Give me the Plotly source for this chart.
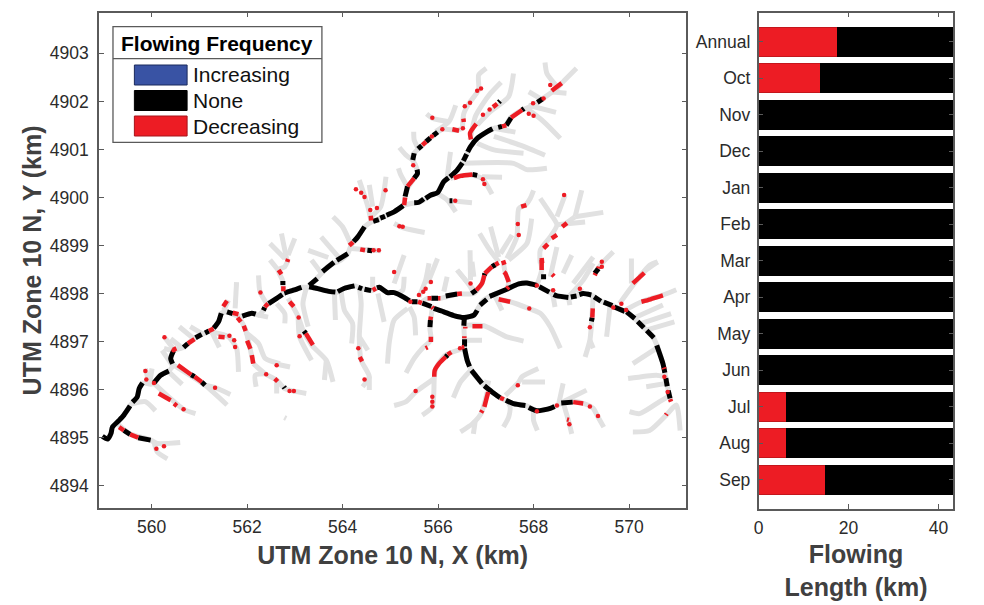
import plotly.graph_objects as go

# ---- monthly bars ----
months = ["Annual","Oct","Nov","Dec","Jan","Feb","Mar","Apr","May","Jun","Jul","Aug","Sep"]
decreasing_km = [17.5,13.8,0,0,0,0,0,0,0,0,6.2,6.1,14.8]
none_km = [26.5,30.2,44,44,44,44,44,44,44,44,37.8,37.9,29.2]
increasing_km = [0]*13

# ---- stream network: each row is x,y,x,y,... in km ----
main_paths = [
 [558.97,4895.03,559.08,4894.97,559.15,4895.09,559.18,4895.22,559.32,4895.36,559.42,4895.47,559.56,4895.68,559.70,4895.85,559.74,4896.02,559.81,4896.14,559.98,4896.11,560.05,4896.14,560.19,4896.30,560.36,4896.39,560.44,4896.49,560.40,4896.65,560.46,4896.81,560.67,4896.88,560.85,4897.03,561.05,4897.15,561.26,4897.24,561.40,4897.41,561.46,4897.59,561.58,4897.62,561.75,4897.55,561.89,4897.53,562.10,4897.59,562.24,4897.55,562.34,4897.65,562.41,4897.76,562.62,4897.90,562.76,4898.00,562.97,4898.07,563.14,4898.13,563.28,4898.13,563.45,4898.11,563.69,4898.05,563.87,4898.02,564.04,4898.11,564.25,4898.16,564.39,4898.11,564.60,4898.06,564.77,4898.13,564.94,4898.02,565.08,4898.02,565.29,4897.92,565.47,4897.83,565.67,4897.81,565.88,4897.71,566.12,4897.62,566.33,4897.54,566.55,4897.50,566.75,4897.55,566.92,4897.83,567.10,4897.95,567.44,4898.09,567.69,4898.20,567.86,4898.22,568.07,4898.17,568.31,4898.04,568.49,4897.95,568.73,4897.92,568.90,4897.95,569.04,4898.00,569.21,4897.97,569.39,4897.85,569.63,4897.76,569.91,4897.63,570.12,4897.48,570.29,4897.31,570.50,4897.10,570.60,4896.88,570.71,4896.54,570.78,4896.20,570.83,4895.95,570.88,4895.75],
 [566.55,4897.50,566.54,4897.31,566.555,4897.03,566.555,4896.82,566.61,4896.61,566.72,4896.37,566.92,4896.13,567.13,4895.95,567.34,4895.81,567.58,4895.71,567.83,4895.67,568.07,4895.56,568.35,4895.61,568.62,4895.73,568.90,4895.75,569.08,4895.70,569.25,4895.61,569.35,4895.43,569.47,4895.22],
 [563.28,4898.13,563.56,4898.42,563.69,4898.56,563.97,4898.70,564.11,4898.83,564.18,4899.01,564.32,4899.18,564.46,4899.39,564.60,4899.49,564.87,4899.60,565.08,4899.70,565.29,4899.84,565.47,4899.88,565.64,4899.91,565.85,4900.05,565.99,4900.10,566.12,4900.33,566.26,4900.43,566.40,4900.57,566.54,4900.78,566.68,4901.06,566.82,4901.23,567.03,4901.37,567.17,4901.44,567.41,4901.49,567.51,4901.65,567.76,4901.82,568.00,4901.92,568.17,4902.04,568.49,4902.27,568.59,4902.38,568.90,4902.69],
 [565.29,4899.84,565.31,4900.02,565.36,4900.19,565.50,4900.40,565.57,4900.50,565.53,4900.67,565.47,4900.78,565.50,4900.92,565.67,4901.09,565.95,4901.33,566.09,4901.42,566.40,4901.40,566.51,4901.44],
 [565.67,4897.83,565.78,4897.90,566.05,4897.90,566.40,4897.99,566.75,4898.0,566.92,4898.21,566.97,4898.38,567.13,4898.56,567.27,4898.64],
 [567.44,4898.10,567.48,4898.24,567.41,4898.42,567.37,4898.63],
]
branch_paths = [
 [559.28,4895.29,559.53,4895.09,559.98,4894.95,560.12,4894.88,560.60,4894.90],
 [560.05,4894.91,560.12,4894.70,560.33,4894.56],
 [559.60,4895.71,559.87,4895.75,560.08,4895.56],
 [559.87,4896.44,559.94,4896.16],
 [560.01,4896.44,559.96,4896.14],
 [560.05,4896.13,560.40,4895.81,560.67,4895.59,560.92,4895.50],
 [560.43,4896.51,560.22,4896.82],
 [560.36,4896.37,560.64,4896.11],
 [560.46,4896.51,561.12,4896.09,561.58,4895.68],
 [561.12,4896.09,561.33,4896.04,561.65,4895.90],
 [560.49,4896.81,560.28,4897.08],
 [560.26,4896.86,560.50,4896.79],
 [560.40,4897.06,560.65,4896.86],
 [560.58,4897.31,560.92,4897.03],
 [560.81,4897.31,561.05,4897.17],
 [561.26,4897.20,561.42,4896.88],
 [561.26,4897.20,561.61,4897.10,561.78,4896.86,561.82,4896.37],
 [561.51,4897.65,561.61,4897.86],
 [561.78,4897.59,561.96,4897.27,562.13,4896.54],
 [561.96,4897.20,562.24,4896.96,562.38,4896.65,562.69,4896.54],
 [562.58,4896.54,562.90,4896.47],
 [562.13,4896.54,562.38,4896.33,562.62,4896.20,562.79,4896.02,563.24,4895.92],
 [562.38,4896.33,562.17,4896.30,562.19,4896.06],
 [562.62,4896.20,562.62,4895.92],
 [562.78,4895.42,562.82,4895.40],
 [562.24,4898.38,562.27,4898.04,562.41,4897.79],
 [561.78,4898.24,561.75,4897.69],
 [562.76,4898.00,562.74,4898.28,562.65,4898.49,562.79,4898.56,562.86,4898.70],
 [562.48,4898.70,562.65,4898.49],
 [562.86,4897.90,563.07,4897.52,563.17,4897.24,563.35,4896.93,563.66,4896.61,563.80,4896.16],
 [563.07,4897.52,563.10,4897.10,563.35,4896.61],
 [563.66,4896.61,563.62,4896.20],
 [563.24,4898.11,563.17,4897.79,563.28,4897.31],
 [562.62,4897.79,562.79,4897.58,562.79,4897.38],
 [562.24,4897.55,562.44,4897.51],
 [563.83,4898.00,563.85,4897.45],
 [563.97,4898.04,564.04,4897.65,564.21,4897.38,564.19,4896.96],
 [564.35,4898.14,564.39,4897.79,564.35,4897.10,564.39,4896.61,564.56,4896.27,564.42,4896.06],
 [564.35,4897.10,564.53,4896.82],
 [564.56,4896.27,564.56,4895.99],
 [564.63,4898.35,564.63,4898.07],
 [564.74,4898.00,564.87,4897.41],
 [564.94,4896.54,564.98,4897.0,565.08,4897.45,565.36,4897.69],
 [563.35,4898.70,563.56,4898.42],
 [564.60,4899.49,564.53,4899.81,564.35,4900.36],
 [564.63,4899.81,564.56,4900.26],
 [564.60,4899.60,564.80,4899.81,564.91,4900.43],
 [564.18,4899.01,564.0,4899.39,563.80,4899.60],
 [564.18,4898.94,564.80,4898.89],
 [563.94,4898.73,563.55,4899.18],
 [562.83,4898.71,562.72,4899.25],
 [562.86,4898.80,563.0,4899.15],
 [562.48,4899.04,562.79,4898.73],
 [563.28,4898.9,563.7,4898.75],
 [565.95,4901.37,566.23,4901.58,566.37,4901.92],
 [566.2,4901.58,565.88,4901.65,565.76,4901.74],
 [565.60,4900.99,565.50,4901.20,565.49,4901.37],
 [565.47,4900.78,565.33,4900.88,565.19,4901.04],
 [565.36,4900.22,565.22,4900.47,565.17,4900.61],
 [566.67,4901.20,566.78,4901.68,566.92,4901.92,567.10,4902.17,567.32,4902.40],
 [566.82,4901.51,567.10,4901.79,567.48,4902.10,567.58,4902.58],
 [566.51,4901.44,566.54,4901.75,566.65,4901.96,566.85,4902.24,566.85,4902.55,567.01,4902.69],
 [568.17,4902.04,567.90,4902.20],
 [567.89,4901.92,568.47,4901.77],
 [567.85,4901.86,568.21,4901.58,568.56,4901.23],
 [568.49,4902.31,568.28,4902.58,568.24,4902.81],
 [568.35,4902.20,568.69,4902.17],
 [566.82,4901.13,567.17,4900.99,567.79,4900.92],
 [567.17,4901.27,567.72,4901.09,568.24,4900.88],
 [567.17,4901.44,567.62,4901.36],
 [566.19,4900.40,566.26,4900.95],
 [566.51,4900.71,567.58,4900.71,567.86,4900.58,568.28,4900.61],
 [566.26,4900.40,566.68,4900.47,566.92,4900.40,567.13,4900.07],
 [566.92,4900.43,567.34,4900.42],
 [565.99,4900.08,566.19,4899.95,566.37,4899.70],
 [566.28,4899.93,566.71,4899.89],
 [565.08,4899.46,565.29,4899.36,565.72,4899.27],
 [567.27,4898.66,567.06,4898.94,566.87,4899.25],
 [567.27,4898.76,567.10,4899.39],
 [567.48,4898.70,567.86,4899.04,567.96,4899.56],
 [567.44,4898.73,567.65,4899.18,567.69,4899.77,567.83,4899.84,567.93,4899.98,568.0,4900.15],
 [567.31,4898.83,567.55,4899.22],
 [568.14,4898.63,568.14,4898.90,568.35,4899.18,568.49,4899.43,568.35,4899.67,568.14,4899.98],
 [568.49,4899.60,568.66,4900.05],
 [568.49,4899.43,569.08,4899.49],
 [568.87,4899.60,569.01,4900.15],
 [568.87,4899.60,569.46,4899.69],
 [568.62,4899.42,568.87,4899.60],
 [566.68,4898.28,566.67,4898.90],
 [566.40,4898.49,566.75,4898.07],
 [565.08,4898.21,565.29,4898.80],
 [565.78,4898.21,565.99,4898.73],
 [568.35,4898.35,568.49,4898.97],
 [568.62,4898.42,568.80,4898.80],
 [568.83,4898.21,569.25,4898.76],
 [569.32,4898.49,569.46,4898.66,569.67,4898.87],
 [570.05,4898.73,570.05,4898.21],
 [570.22,4898.35,570.43,4898.59,570.60,4898.66],
 [565.29,4898.35,565.26,4898.07,565.14,4898.0],
 [565.40,4897.72,565.50,4897.51,565.53,4897.13],
 [565.81,4898.63,565.74,4898.28,565.60,4897.93],
 [566.19,4898.35,566.12,4898.04],
 [566.40,4898.49,566.65,4898.18,566.75,4898.0],
 [566.71,4898.66,566.75,4898.35],
 [565.88,4897.71,565.83,4897.27,565.85,4897.03,565.67,4896.86,565.50,4896.65,565.33,4896.35],
 [566.54,4896.86,566.16,4896.72,565.95,4896.44,565.92,4896.23,565.88,4895.64,565.67,4895.47],
 [565.92,4896.23,565.53,4895.95,565.33,4895.75,565.08,4895.67],
 [566.68,4896.40,566.47,4896.16,566.32,4895.83],
 [566.55,4897.34,566.96,4897.33,567.44,4897.10,567.79,4897.01],
 [566.55,4897.03,566.92,4897.03],
 [567.17,4898.0,567.34,4897.65],
 [567.24,4897.88,567.51,4897.83,567.90,4897.69,568.14,4897.59,568.35,4897.31,568.56,4896.86],
 [568.38,4898.10,568.45,4897.72],
 [568.07,4898.17,568.17,4898.49,568.14,4898.70],
 [568.73,4897.93,568.76,4897.76],
 [568.73,4897.93,569.04,4898.28,569.25,4898.63],
 [569.25,4897.97,569.21,4897.31,569.18,4897.03,569.08,4896.68],
 [569.18,4897.03,569.25,4896.86],
 [568.94,4898.0,569.01,4898.11],
 [569.60,4897.72,569.53,4897.10],
 [569.80,4897.79,570.08,4898.17,570.36,4898.49,570.60,4898.66],
 [569.91,4897.65,570.26,4897.83,570.71,4897.97,570.99,4898.08],
 [570.15,4897.51,570.71,4897.76],
 [570.26,4897.38,570.88,4897.58],
 [570.36,4897.24,570.95,4897.41],
 [570.08,4896.54,570.57,4896.86],
 [569.98,4896.23,570.57,4896.30,570.74,4896.27],
 [570.36,4896.06,570.78,4896.13],
 [570.01,4895.54,570.22,4895.50,570.64,4895.75,570.81,4895.85],
 [570.08,4895.12,570.43,4895.15,570.78,4895.47,570.99,4895.68,571.07,4895.15],
 [567.03,4895.95,566.90,4895.50,566.72,4895.29,566.47,4895.12],
 [566.78,4895.36,566.74,4895.08],
 [567.44,4895.78,567.51,4895.64,567.48,4895.43,567.37,4895.22],
 [567.41,4895.88,567.69,4896.16,567.76,4896.27,568.10,4896.44],
 [567.76,4896.16,568.24,4896.16],
 [568.0,4895.61,568.0,4895.36,568.08,4895.15],
 [568.52,4895.67,568.62,4896.13],
 [568.62,4895.75,569.11,4895.99],
 [568.62,4895.73,568.73,4895.36,568.80,4895.08],
 [566.96,4896.16,567.10,4896.13],
]
black_paths = [
 [558.97,4895.03,559.08,4894.97,559.15,4895.09,559.18,4895.22,559.32,4895.36,559.42,4895.47,559.55,4895.66],
 [559.60,4895.74,559.70,4895.85,559.74,4896.02,559.81,4896.14],
 [560.05,4896.14,560.19,4896.30,560.36,4896.39],
 [560.44,4896.54,560.40,4896.65,560.46,4896.81],
 [560.67,4896.88,560.76,4896.96],
 [560.92,4897.08,561.05,4897.15],
 [561.12,4897.18,561.20,4897.22],
 [561.30,4897.28,561.40,4897.41,561.46,4897.59],
 [561.58,4897.62,561.70,4897.58],
 [561.90,4897.53,562.10,4897.59,562.18,4897.57],
 [562.34,4897.65,562.37,4897.71],
 [562.45,4897.79,562.62,4897.90,562.74,4897.98],
 [562.78,4898.01,562.97,4898.07,563.14,4898.13],
 [563.30,4898.14,563.45,4898.11,563.69,4898.05,563.85,4898.03],
 [563.90,4898.04,564.04,4898.11,564.25,4898.16],
 [564.33,4898.13,564.41,4898.10],
 [564.46,4898.09,564.60,4898.06],
 [564.72,4898.12,564.77,4898.13,564.94,4898.02,565.08,4898.02,565.29,4897.92,565.40,4897.85],
 [565.45,4897.83,565.57,4897.83],
 [565.67,4897.80,565.86,4897.73],
 [565.91,4897.69,566.12,4897.62,566.33,4897.54,566.55,4897.50,566.75,4897.55,566.82,4897.65],
 [566.88,4897.76,567.02,4897.88],
 [567.08,4897.94,567.44,4898.09,567.69,4898.20,567.86,4898.22,568.07,4898.17],
 [568.12,4898.14,568.33,4898.03],
 [568.42,4897.98,568.49,4897.95,568.73,4897.92],
 [568.78,4897.93,568.90,4897.95],
 [568.96,4897.98,569.04,4898.00,569.21,4897.97],
 [569.27,4897.93,569.41,4897.84],
 [569.47,4897.82,569.65,4897.75],
 [569.69,4897.72,569.91,4897.63],
 [569.95,4897.62,570.12,4897.48],
 [570.18,4897.42,570.31,4897.29],
 [570.37,4897.23,570.52,4897.08],
 [570.58,4896.92,570.71,4896.54,570.75,4896.35],
 [570.77,4896.24,570.80,4896.07],
 [570.82,4895.98,570.86,4895.82],
 [563.30,4898.17,563.47,4898.31],
 [563.58,4898.46,563.82,4898.65],
 [563.88,4898.69,564.11,4898.83],
 [564.23,4899.08,564.32,4899.18,564.46,4899.39],
 [564.64,4899.50,564.76,4899.54],
 [564.79,4899.57,564.89,4899.61],
 [564.92,4899.63,565.08,4899.70,565.27,4899.83],
 [565.50,4899.89,565.60,4899.90,565.70,4899.97],
 [565.74,4899.98,565.85,4900.05,565.99,4900.10,566.12,4900.33,566.22,4900.41],
 [566.25,4900.43,566.40,4900.57,566.51,4900.72],
 [566.53,4900.76,566.60,4900.90],
 [566.62,4900.95,566.68,4901.06,566.82,4901.23,567.03,4901.37,567.14,4901.43],
 [567.26,4901.46,567.34,4901.48],
 [567.43,4901.50,567.53,4901.66],
 [567.76,4901.82,567.80,4901.85],
 [568.08,4901.98,568.19,4902.05],
 [565.31,4900.02,565.36,4900.23],
 [565.50,4900.40,565.57,4900.50,565.56,4900.58],
 [565.47,4900.78,565.50,4900.92],
 [565.58,4901.01,565.66,4901.08],
 [565.75,4901.16,565.84,4901.24],
 [565.90,4901.29,565.99,4901.36],
 [566.55,4897.50,566.54,4897.33],
 [566.555,4897.05,566.555,4896.90],
 [566.555,4896.86,566.61,4896.61,566.66,4896.48],
 [566.70,4896.40,566.92,4896.13],
 [566.97,4896.08,567.13,4895.95,567.30,4895.83],
 [567.42,4895.78,567.58,4895.71,567.83,4895.67],
 [567.90,4895.63,568.07,4895.56,568.35,4895.61,568.44,4895.65],
 [568.58,4895.72,568.82,4895.74],
 [559.42,4895.15,559.55,4895.07],
 [559.72,4895.0,559.98,4894.95],
 [560.83,4896.31,560.90,4896.27],
 [561.05,4896.16,561.12,4896.09],
 [562.75,4898.26,562.75,4898.18],
 [562.77,4896.06,562.79,4896.03],
 [564.52,4898.90,564.62,4898.89],
 [567.27,4901.98,567.30,4902.01],
 [566.72,4900.48,566.82,4900.46],
 [566.24,4899.93,566.30,4899.93],
 [565.84,4897.45,565.83,4897.30],
 [565.86,4897.90,566.0,4897.90],
 [566.16,4897.95,566.40,4897.99],
 [566.70,4898.0,566.80,4898.07],
 [566.97,4898.38,566.98,4898.42],
 [567.13,4898.56,567.2,4898.60],
 [568.21,4898.40,568.21,4898.30],
 [569.36,4898.52,569.28,4898.42],
 [566.16,4896.68,566.2,4896.72],
 [563.19,4897.22,563.23,4897.17],
 [569.23,4897.50,569.21,4897.42],
]
red_paths = [
 [559.32,4895.22,559.42,4895.15],
 [559.55,4895.07,559.72,4895.0],
 [560.15,4895.92,560.40,4895.78],
 [560.47,4895.71,560.53,4895.66],
 [560.55,4896.51,560.83,4896.31],
 [560.90,4896.27,561.05,4896.16],
 [560.76,4896.96,560.90,4897.05],
 [561.2,4897.22,561.3,4897.27],
 [561.70,4897.60,561.82,4897.57],
 [561.80,4897.50,561.87,4897.41],
 [561.93,4897.33,561.97,4897.22],
 [562.0,4897.02,562.07,4896.85],
 [562.10,4896.72,562.13,4896.54],
 [562.37,4897.72,562.44,4897.79],
 [562.76,4898.05,562.76,4898.15],
 [562.66,4898.49,562.72,4898.40],
 [562.84,4898.66,562.86,4898.72],
 [562.89,4897.83,562.98,4897.73],
 [563.23,4897.17,563.38,4896.93],
 [564.36,4896.68,564.41,4896.59],
 [564.63,4898.07,564.70,4898.11],
 [560.45,4896.83,560.52,4896.86],
 [561.40,4897.10,561.53,4897.09],
 [561.50,4897.73,561.58,4897.85],
 [562.58,4896.23,562.64,4896.17],
 [564.60,4899.52,564.59,4899.62],
 [564.14,4899.0,564.22,4899.07],
 [564.37,4898.92,564.47,4898.9],
 [565.29,4899.84,565.31,4900.0],
 [565.36,4900.23,565.50,4900.40],
 [565.67,4901.09,565.75,4901.16],
 [566.30,4901.42,566.44,4901.39],
 [566.53,4901.64,566.54,4901.57],
 [566.69,4901.21,566.67,4901.34,566.80,4901.53],
 [567.15,4901.88,567.24,4901.95],
 [567.53,4901.66,567.76,4901.82],
 [568.38,4902.22,568.59,4902.38],
 [567.34,4901.48,567.43,4901.50],
 [566.33,4900.40,566.47,4900.45,566.72,4900.48],
 [567.74,4899.81,567.85,4899.84],
 [568.18,4898.63,568.17,4898.74],
 [568.21,4898.94,568.30,4899.03],
 [568.38,4899.15,568.49,4899.22],
 [568.60,4899.39,568.70,4899.47],
 [569.37,4898.56,569.36,4898.52],
 [565.58,4897.83,565.66,4897.80],
 [565.87,4897.72,565.90,4897.69],
 [565.85,4897.52,565.84,4897.45],
 [565.85,4897.10,565.85,4896.99],
 [565.74,4896.86,565.78,4896.88],
 [565.78,4897.90,565.86,4897.90],
 [566.0,4897.90,566.05,4897.90],
 [566.40,4897.99,566.50,4898.0],
 [566.80,4898.07,566.92,4898.21,566.97,4898.38],
 [566.98,4898.42,567.13,4898.56],
 [567.2,4898.60,567.27,4898.64],
 [567.33,4898.63,567.42,4898.66],
 [567.38,4898.45,567.41,4898.42,567.48,4898.24],
 [567.44,4898.10,567.48,4898.14],
 [568.17,4898.70,568.17,4898.49],
 [568.39,4898.40,568.43,4898.36],
 [569.24,4897.69,569.23,4897.50],
 [569.28,4898.38,569.30,4898.42],
 [570.08,4898.21,570.32,4898.43],
 [570.26,4897.83,570.45,4897.88,570.71,4897.96],
 [570.73,4896.46,570.74,4896.43],
 [570.86,4895.80,570.88,4895.75],
 [570.77,4895.47,570.79,4895.50],
 [566.57,4897.31,566.57,4897.27],
 [566.72,4897.32,566.93,4897.32],
 [566.55,4897.11,566.55,4897.07],
 [566.50,4896.88,566.55,4896.89],
 [565.92,4896.27,565.93,4896.40,566.02,4896.54,566.16,4896.68],
 [566.2,4896.73,566.28,4896.78],
 [567.05,4895.95,566.97,4895.64],
 [566.90,4895.52,566.93,4895.57],
 [567.30,4895.83,567.38,4895.80],
 [568.83,4895.74,569.04,4895.71],
 [568.70,4895.38,568.74,4895.37],
 [567.27,4897.88,567.51,4897.83],
]
red_spots_x = [560.67,560.05,561.33,560.46,562.28,563.08,563.10,559.87,559.89,560.27,561.63,561.73,561.75,562.62,562.40,562.89,562.98,560.10,560.26,564.58,564.72,564.90,564.28,564.39,564.46,564.65,564.76,565.48,565.87,566.09,566.52,566.56,566.67,566.82,566.90,565.88,566.94,567.08,567.90,568.0,567.99,568.21,568.35,566.94,566.97,566.36,565.19,565.26,567.69,567.67,568.64,569.43,565.85,565.74,565.69,565.60,565.42,566.68,568.07,568.41,568.97,569.18,569.43,569.84,569.67,569.94,570.74,570.81,566.46,565.88,565.88,565.88,565.53,567.67,568.49,568.07,569.18,569.35,568.75,567.91,565.08,564.33,564.46]
red_spots_y = [4895.59,4896.14,4896.04,4896.82,4898.02,4897.50,4897.11,4896.39,4896.21,4897.09,4897.12,4897.03,4896.89,4896.51,4896.32,4895.97,4895.97,4894.77,4894.82,4899.74,4899.78,4900.15,4900.17,4900.10,4900.01,4898.90,4898.90,4900.67,4901.27,4901.42,4901.44,4901.90,4901.97,4902.22,4902.27,4901.66,4901.72,4901.83,4901.74,4901.70,4901.96,4902.06,4902.34,4900.38,4900.28,4899.93,4899.40,4899.39,4899.22,4899.45,4900.05,4898.66,4898.24,4898.10,4898.04,4897.97,4897.83,4898.21,4898.17,4898.07,4898.10,4897.30,4898.56,4897.79,4897.71,4897.66,4896.27,4895.95,4896.86,4895.85,4895.75,4895.65,4895.97,4896.09,4895.67,4895.55,4895.65,4895.45,4895.28,4897.69,4898.45,4896.86,4896.21]

legend_names = ["Increasing","None","Decreasing"]
legend_fills = ["#3953a4","#000000","#ed1c24"]
legend_edges = ["#1b2a5c","#000000","#a5141a"]


def flatten(paths):
    xs, ys = [], []
    for p in paths:
        xs += list(p[0::2]) + [None]
        ys += list(p[1::2]) + [None]
    return xs, ys


# the page adds an 8 px body margin, so the figure is 8 px smaller than the window
W, H, OFF = 976, 597, 8
GRAY, RED, AX, TXT, TTL = "#e1e1e1", "#ed1c24", "#5a5a5a", "#2b2b2b", "#404040"
FONT = "Liberation Sans"

def px(v): return (v - OFF) / W
def py(v): return 1 - (v - OFF) / H

fig = go.Figure()
for paths, col, w in [(main_paths + branch_paths, GRAY, 5), (black_paths, "#000000", 5), (red_paths, RED, 4.5)]:
    x, y = flatten(paths)
    fig.add_trace(go.Scatter(x=x, y=y, mode="lines", line=dict(color=col, width=w, shape="spline", smoothing=0.6),
                             showlegend=False, hoverinfo="skip"))
fig.add_trace(go.Scatter(x=red_spots_x, y=red_spots_y, mode="markers",
                         marker=dict(color=RED, size=4.5), showlegend=False, hoverinfo="skip"))

for vals, col, edge in [(decreasing_km, RED, "#c4161c"), (none_km, "#000000", "#000000"), (increasing_km, "#3953a4", "#3953a4")]:
    fig.add_trace(go.Bar(y=months, x=vals, orientation="h", xaxis="x2", yaxis="y2", width=0.8,
                         marker=dict(color=col, line=dict(color=edge, width=1)), showlegend=False))

axis_common = dict(showgrid=False, zeroline=False, showline=True, linecolor=AX, linewidth=1.6, mirror="ticks",
                   ticks="inside", ticklen=5, tickwidth=1, tickcolor=AX,
                   tickfont=dict(family=FONT, size=17.5, color=TXT))
title_font = dict(family=FONT, size=25, color=TTL)

fig.update_layout(
    width=W, height=H, margin=dict(l=0, r=0, t=0, b=0), paper_bgcolor="white", plot_bgcolor="white",
    barmode="stack", showlegend=False, font=dict(family=FONT),
    xaxis=dict(domain=[px(94.5), px(684.8)], range=[558.9, 571.2], tickvals=[560,562,564,566,568,570], anchor="y",
               ticklabelstandoff=2,
               title=dict(text="<b>UTM Zone 10 N, X (km)</b>", font=title_font, standoff=10),
               **axis_common),
    yaxis=dict(domain=[py(508.3), py(12.5)], range=[4893.53, 4903.85], tickvals=list(range(4894, 4904)), anchor="x",
               tickformat="d", ticklabelstandoff=5,
               title=dict(text="<b>UTM Zone 10 N, Y (km)</b>", font=title_font, standoff=1),
               **axis_common),
    xaxis2=dict(domain=[px(757.5), px(953.2)], range=[0, 43.3], tickvals=[0,20,40], anchor="y2",
                ticklabelstandoff=2,
                title=dict(text="<b>Flowing<br>Length (km)</b>", font=title_font, standoff=9),
                **axis_common),
    yaxis2=dict(domain=[py(509), py(12.5)], range=[12.8, -0.8], type="category", categoryorder="array",
                categoryarray=months, anchor="x2", ticklabelstandoff=3, **axis_common),
)

# legend panel
shapes = [
    dict(type="rect", xref="paper", yref="paper", x0=px(108.5), x1=px(318.5), y0=py(142.3), y1=py(26.7),
         fillcolor="white", line=dict(color=AX, width=1.3)),
    dict(type="line", xref="paper", yref="paper", x0=px(108.5), x1=px(318.5), y0=py(58.7), y1=py(58.7),
         line=dict(color=AX, width=1.3)),
]
annos = [dict(text="<b>Flowing Frequency</b>", xref="paper", yref="paper", x=px(213), y=py(43), showarrow=False,
              xanchor="center", yanchor="middle", font=dict(family=FONT, size=21, color="#000000"))]
for name, fc, ec, top in zip(legend_names, legend_fills, legend_edges, [65, 90.5, 116]):
    shapes.append(dict(type="rect", xref="paper", yref="paper", x0=px(130), x1=px(183), y0=py(top+20), y1=py(top),
                       fillcolor=fc, line=dict(color=ec, width=1)))
    annos.append(dict(text=name, xref="paper", yref="paper", x=px(187), y=py(top+10), showarrow=False,
                      xanchor="left", yanchor="middle", font=dict(family=FONT, size=21, color="#111111")))
fig.update_layout(shapes=shapes, annotations=annos)

fig.write_html("out.html")
